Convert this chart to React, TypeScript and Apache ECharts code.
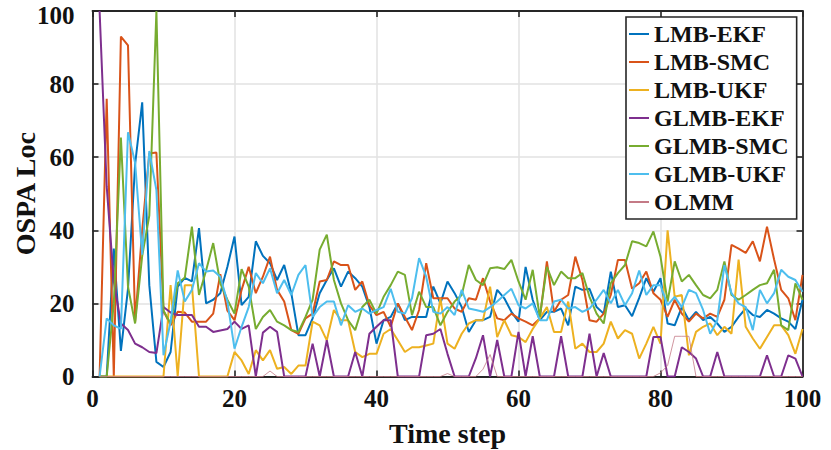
import React, { useEffect, useRef } from "react";
import * as echarts from "echarts";

const timeSteps: number[] = Array.from({ length: 100 }, (_, i) => i + 1);

const xTicks = [0, 20, 40, 60, 80, 100];
const yTicks = [0, 20, 40, 60, 80, 100];

const seriesNames = ["LMB-EKF", "LMB-SMC", "LMB-UKF", "GLMB-EKF", "GLMB-SMC", "GLMB-UKF", "OLMM"];

const lmbEkf = [
  0, 0, 35, 7, 24, 58, 75, 25, 4, 2.6,
  6.7, 24.6, 27, 26, 40.6, 20, 21, 22.8, 30, 38.3,
  19.5, 21.8, 37, 33, 31, 26.4, 30.5, 22.8, 11.3, 11.3,
  15.9, 22.8, 26.4, 29.6, 24.6, 28.7, 26.9, 24.6, 19, 9,
  15.4, 16.3, 20, 15.4, 16.3, 16.3, 16.3, 24.6, 20, 26,
  22.8, 19, 12.2, 15.4, 15.4, 16.3, 23.7, 21.4, 17.7, 15,
  30, 21, 15.4, 17.7, 17.7, 18.6, 14, 24.6, 23.7, 24,
  19, 17.2, 28.7, 19, 19.5, 16.5, 21.5, 26.9, 23.2, 26.9,
  14.5, 14, 19, 15.4, 17.7, 15.4, 16.3, 14.5, 12.2, 13.6,
  16.3, 18.6, 16.8, 16.3, 18.2, 17.2, 15.9, 15, 13, 21,
];

const lmbSmc = [
  0, 76, 0, 93, 90.6, 15, 40, 61, 61.3, 18,
  14, 17.7, 17.5, 15, 15, 15, 17.2, 28, 18, 15.4,
  23.7, 30, 22.8, 27.3, 32.8, 23.7, 20.5, 12.7, 11.7, 15.9,
  17.2, 26, 26.4, 31.5, 30.5, 30.5, 23.7, 26, 19.5, 16.8,
  17.7, 13.6, 20, 16.3, 12.7, 18.2, 31, 21.4, 21.4, 21.4,
  18.6, 17.7, 21.4, 21, 26.9, 20.5, 15.9, 15.4, 17.2, 15.9,
  15, 14, 15.9, 31.5, 17.7, 21, 22.3, 32.8, 26.4, 15.4,
  15, 17.2, 22.3, 31.9, 31.9, 24, 25.5, 28.7, 22.8, 21,
  16.3, 21, 17.2, 15, 17.2, 15.9, 17.2, 16.3, 21, 36,
  35, 33.8, 37, 31.5, 41, 32, 23.7, 21.4, 15.4, 27.8,
];

const lmbUkf = [
  0, 0, 0, 0, 0, 0, 0, 0, 0, 0,
  25, 0, 25, 25, 0, 0, 0, 0, 0, 6.7,
  4.4, 0.7, 7.2, 4.4, 7.2, 2.1, 2.6, 0.7, 3, 3,
  15, 14, 9.9, 18.2, 15.4, 15.4, 6.7, 5.3, 6.2, 6.2,
  11.7, 13, 9.9, 6.7, 8, 8, 8.5, 9, 21.4, 9,
  7.6, 11.7, 14.5, 15.4, 15.4, 24.6, 10.8, 15.4, 11.3, 10.8,
  9.4, 13, 15.9, 19, 12.2, 12.2, 20.5, 7.6, 9, 6.7,
  6.7, 9, 15, 10.4, 12.7, 11.7, 4.9, 9, 13.6, 9,
  40, 21.8, 22.3, 5.8, 12.2, 13.6, 14.5, 11.3, 13.6, 11.7,
  32, 13.6, 10.4, 7.6, 10.8, 14, 14, 11.3, 6.2, 13,
];

const glmbEkf = [
  100, 52, 26, 14.5, 12.7, 9, 8, 6.7, 6.4, 19,
  17.5, 16.8, 16.8, 16.8, 13.6, 13.6, 12.2, 12.6, 13, 15,
  13, 14, 0, 12, 13.6, 12.2, 0, 0, 0, 0,
  9, 0, 9.9, 0, 0, 0, 6.7, 0, 11.7, 13.6,
  15.4, 15.4, 0, 0, 0, 0, 11.3, 11.7, 13, 6.2,
  0, 0, 0, 5, 11.3, 0, 10, 0, 0, 12.2,
  0, 11, 0, 0, 0, 11, 0, 0, 0, 11.7,
  0, 6.4, 0, 0, 0, 0, 0, 0, 10.8, 10.8,
  0, 0, 8, 6.7, 4.9, 0, 0, 6.7, 0, 0,
  0, 0, 0, 0, 5.8, 0, 0, 5.8, 4.9, 0,
];

const glmbSmc = [
  0, 0, 20, 65.4, 24.6, 14.5, 33, 44, 100, 18,
  14.5, 25.5, 27, 41, 22.3, 29, 36.5, 25.5, 21, 17.2,
  29.4, 24.6, 13, 16.3, 18.2, 15, 14, 12.7, 12.2, 16.3,
  21, 34.7, 38.8, 26.4, 20, 15.4, 12.7, 19, 21, 17.2,
  21.8, 25, 28.7, 27.8, 16.8, 23.2, 19, 19, 14, 17.7,
  20.5, 22.3, 30.5, 26.4, 25, 29.6, 29.9, 29.4, 31.9, 26,
  21, 29.2, 16.3, 30, 25, 28.7, 26.9, 26.9, 28.3, 21.8,
  17.2, 14.5, 25.5, 28.3, 30.5, 37, 36.5, 35.6, 39.7, 32.8,
  20.5, 31.5, 26, 27.8, 25, 22.3, 21.4, 23.7, 31.5, 22.3,
  21, 22.3, 23.7, 25, 25.5, 29.2, 14, 12.7, 25.5, 21,
];

const glmbUkf = [
  0, 15.9, 14, 13, 66.8, 58.5, 33.3, 61.7, 51, 5.8,
  15, 29, 20.5, 23.7, 31, 28.7, 29, 27.3, 20.5, 7.6,
  13.6, 19, 28.3, 25.5, 29.6, 22.8, 26.4, 22.3, 27.8, 30.5,
  16.3, 19, 20.5, 20.5, 14, 19.5, 17.7, 18.6, 17.2, 18.2,
  19, 24, 17.7, 17.2, 21.4, 32.4, 27.3, 17.7, 17.2, 19,
  16.8, 23.7, 18.6, 18.2, 17.7, 19, 20.5, 22.3, 24, 19.5,
  18.6, 20, 15.4, 15.4, 20.5, 21, 18.6, 19, 17.7, 18.6,
  21, 23.7, 20, 23.7, 19.5, 22.8, 29, 22.3, 25, 25,
  19.5, 21.8, 19, 23.7, 22.8, 18.2, 11.7, 15.4, 30.5, 22.8,
  20, 19, 12.7, 23.7, 20, 22.8, 29.2, 27.3, 26.4, 23.2,
];

const olmm = [
  0, 0, 0, 0, 0, 0, 0, 0, 0, 0,
  0, 0, 0, 0, 0, 0, 0, 0, 0, 0,
  0, 0, 0, 0, 1.5, 0, 0, 0, 0, 0,
  0, 0, 0, 0, 0, 0, 0, 0, 0, 0,
  0, 0, 0, 0, 0, 0, 0, 0, 0, 0.8,
  0, 0, 0, 0, 2, 6, 0, 0, 0, 0,
  0, 0, 0, 0, 0, 0, 0, 0, 0, 0,
  0, 0, 0, 0, 0, 0, 0, 0, 0, 1,
  3, 11, 11, 11, 0, 0, 0, 0, 0, 0,
  0, 0, 0, 0, 0, 0, 0, 0, 0, 0,
];

const seriesValues = [lmbEkf, lmbSmc, lmbUkf, glmbEkf, glmbSmc, glmbUkf, olmm];
const seriesColors = ["#0072BD", "#D95319", "#EDB120", "#7E2F8E", "#77AC30", "#4DBEEE", "#C47A86"];
const seriesWidths = [2, 2, 2, 2, 2, 2, 0.8];

const FONT = "'Liberation Serif', 'Times New Roman', serif";
const AXIS_COLOR = "#262626";

export default function App() {
  const ref = useRef<HTMLDivElement>(null);

  useEffect(() => {
    document.body.style.margin = "0";
    if (!ref.current) return;
    const chart = echarts.init(ref.current, undefined, { renderer: "svg" });

    const baseAxis = {
      type: "value" as const,
      min: 0,
      max: 100,
      interval: 20,
      axisLine: { show: true, onZero: false, lineStyle: { color: AXIS_COLOR, width: 1.8 } },
      axisTick: { show: true, inside: true, length: 6, lineStyle: { color: AXIS_COLOR, width: 1.6 } },
    };

    const labelFont = { fontFamily: FONT, fontWeight: "bold", fontSize: 25, color: "#111" };
    const yMax = yTicks[yTicks.length - 1];

    const option: any = {
      animation: false,
      backgroundColor: "#ffffff",
      grid: {
        left: 92.5,
        right: 28.5,
        top: 11,
        bottom: 73.5,
        containLabel: false,
        outerBoundsMode: "none",
      },
      xAxis: [
        {
          ...baseAxis,
          position: "bottom",
          name: "Time step",
          nameLocation: "middle",
          nameGap: 43,
          nameMoveOverlap: false,
          nameTextStyle: { fontFamily: FONT, fontWeight: "bold", fontSize: 28, lineHeight: 28, color: "#111" },
          axisLabel: {
            margin: 11,
            ...labelFont,
            lineHeight: 22,
            formatter: (v: number) => (xTicks.includes(v) ? String(v) : ""),
          },
          splitLine: { show: true, lineStyle: { color: "#e2e2e2", width: 1.5 } },
        },
        {
          ...baseAxis,
          position: "top",
          axisLabel: { show: false },
          splitLine: { show: false },
        },
      ],
      yAxis: [
        {
          ...baseAxis,
          position: "left",
          name: "OSPA Loc",
          nameLocation: "middle",
          nameGap: 53,
          nameMoveOverlap: false,
          nameTextStyle: { fontFamily: FONT, fontWeight: "bold", fontSize: 28, lineHeight: 28, color: "#111" },
          axisLabel: {
            margin: 18,
            ...labelFont,
            lineHeight: 22,
            verticalAlign: "middle",
            formatter: (v: number) =>
              yTicks.includes(v) ? (v === yMax ? `{top|${v}}` : String(v)) : "",
            rich: {
              top: { ...labelFont, lineHeight: 22, padding: [9, 0, 0, 0] },
            },
          },
          splitLine: { show: true, lineStyle: { color: "#e2e2e2", width: 1.5 } },
        },
        {
          ...baseAxis,
          position: "right",
          axisLabel: { show: false },
          splitLine: { show: false },
        },
      ],
      legend: {
        data: seriesNames,
        orient: "vertical",
        left: 626,
        top: 17,
        padding: [5, 8, 5, 3],
        itemGap: 4,
        itemWidth: 20,
        itemHeight: 2,
        icon: "rect",
        backgroundColor: "#ffffff",
        borderColor: AXIS_COLOR,
        borderWidth: 1.6,
        textStyle: {
          fontFamily: FONT,
          fontWeight: "bold",
          fontSize: 24,
          lineHeight: 24,
          color: "#111",
        },
      },
      series: seriesNames.map((name, k) => ({
        name,
        type: "line",
        xAxisIndex: 0,
        yAxisIndex: 0,
        symbol: "none",
        showSymbol: false,
        clip: true,
        color: seriesColors[k],
        lineStyle: { color: seriesColors[k], width: seriesWidths[k] },
        data: seriesValues[k].map((v, i) => [timeSteps[i], v]),
      })),
    };

    chart.setOption(option);
    return () => chart.dispose();
  }, []);

  return (
    <div
      ref={ref}
      style={{ position: "absolute", left: 0, top: 0, width: 831, height: 450 }}
    />
  );
}
